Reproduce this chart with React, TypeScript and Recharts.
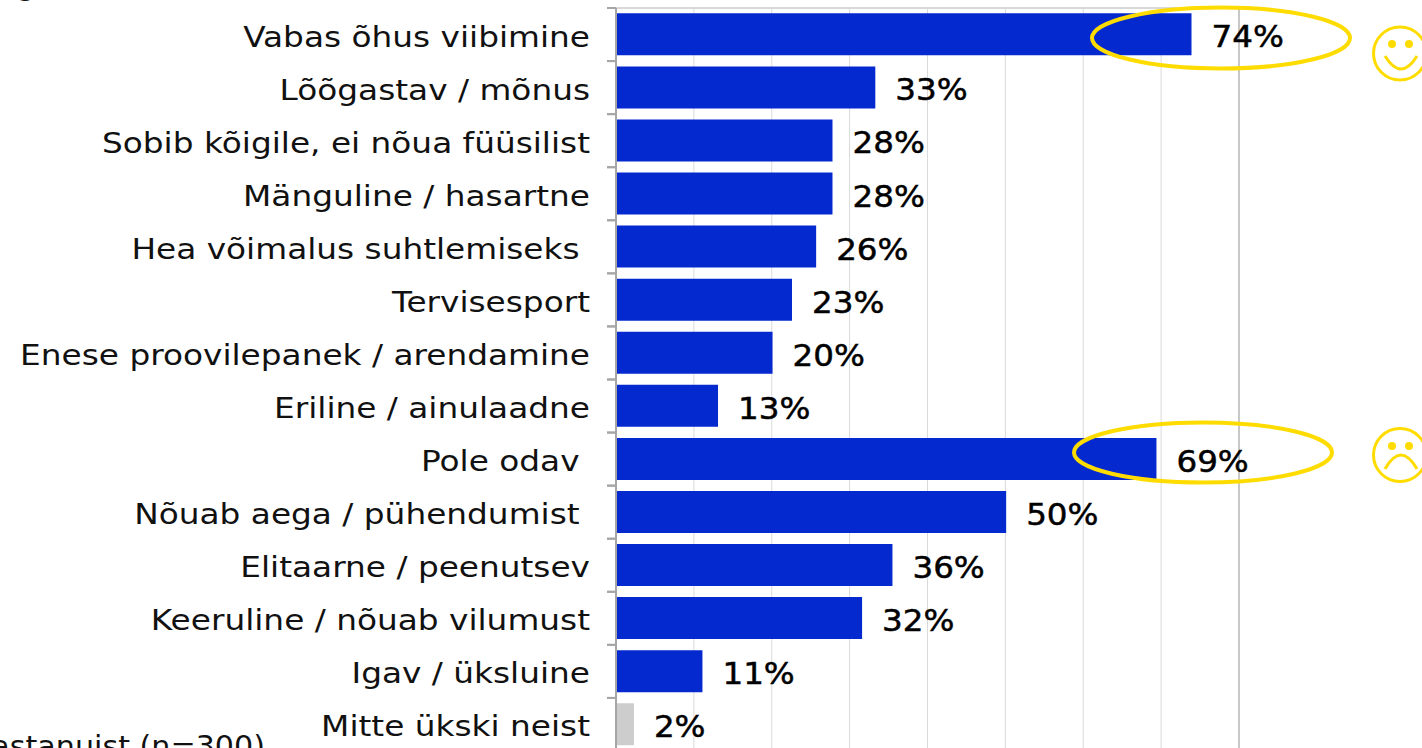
import React from "react";
import { BarChart, Bar, XAxis, YAxis, CartesianGrid, Cell, LabelList, ReferenceLine } from "recharts";

const categories = ["Vabas õhus viibimine","Lõõgastav / mõnus","Sobib kõigile, ei nõua füüsilist","Mänguline / hasartne","Hea võimalus suhtlemiseks ","Tervisesport","Enese proovilepanek / arendamine","Eriline / ainulaadne","Pole odav ","Nõuab aega / pühendumist ","Elitaarne / peenutsev","Keeruline / nõuab vilumust","Igav / üksluine","Mitte ükski neist"];
const barValues = [73.9,33.3,27.8,27.8,25.7,22.6,20.1,13.1,69.4,50.1,35.5,31.6,11.1,2.3];
const labels = ["74%","33%","28%","28%","26%","23%","20%","13%","69%","50%","36%","32%","11%","2%"];
const tickValues = [0,10,20,30,40,50,60,70,80];
const FONT = "DejaVu Sans";
const BLUE = "#0429cf";
const GREY = "#cdcdcd";
const YELLOW = "#ffdc00";

const data = categories.map((name, i) => ({ name, value: barValues[i], label: labels[i] }));
const BAND = 53.05;

const CatTick = (p: any) => (
  <g>
    <line x1={607} x2={616} y1={p.y - BAND / 2} y2={p.y - BAND / 2} stroke="#a6a6a6" strokeWidth={2} />
    <line x1={607} x2={616} y1={p.y + BAND / 2} y2={p.y + BAND / 2} stroke="#a6a6a6" strokeWidth={2} />
    <text transform={`translate(590 ${p.y + 12}) scale(1.13 1)`} textAnchor="end" fontFamily={FONT} fontSize={29} fill="#111" style={{ whiteSpace: "pre" }}>{p.payload.value}</text>
  </g>
);

const ValueLabel = (p: any) => (
  <text transform={`translate(${p.x + p.width + 20} ${p.y + p.height / 2 + 13}) scale(1.05 1)`} fontFamily={FONT} fontSize={31} fill="#000" stroke="#000" strokeWidth={0.5}>{p.value}</text>
);

const NoTick = () => <g />;

export default function App() {
  return (
    <div style={{ position: "absolute", left: 0, top: 0, width: 1422, height: 748, overflow: "hidden", background: "#fff" }}>
      <BarChart width={1422} height={760} data={data} layout="vertical" barCategoryGap="10%" margin={{ top: 7, right: 183, bottom: 9, left: 615 }}>
        <CartesianGrid horizontal={false} stroke="#dadada" strokeWidth={1} />
        <XAxis type="number" orientation="top" height={1} domain={[0, 80]} ticks={tickValues} tick={<NoTick />} tickLine={false} axisLine={{ stroke: "#d8d8d8", strokeWidth: 2 }} />
        <YAxis type="category" dataKey="name" width={1} interval={0} axisLine={{ stroke: "#a6a6a6", strokeWidth: 2 }} tickLine={false} tick={<CatTick />} />
        <ReferenceLine x={80} stroke="#c8c8c8" strokeWidth={2} />
        <Bar dataKey="value" isAnimationActive={false}>
          {data.map((d, i) => <Cell key={d.name} fill={i === 13 ? GREY : BLUE} />)}
          <LabelList dataKey="label" content={<ValueLabel />} />
        </Bar>
      </BarChart>
      <svg width={1422} height={748} style={{ position: "absolute", left: 0, top: 0, pointerEvents: "none" }}>
        <ellipse cx={1221} cy={38} rx={129} ry={30.5} fill="none" stroke={YELLOW} strokeWidth={4} />
        <ellipse cx={1203} cy={452.5} rx={129} ry={30} fill="none" stroke={YELLOW} strokeWidth={4} />
        <g fill="none" stroke={YELLOW} strokeWidth={3}>
          <circle cx={1400} cy={53.5} r={26.5} />
          <path d="M1385 56 Q1401 82 1417 56" />
          <circle cx={1400} cy={455} r={26.5} />
          <path d="M1385 469 Q1401 441 1417 469" />
        </g>
        <g fill={YELLOW}>
          <circle cx={1392} cy={44} r={4} /><circle cx={1409} cy={44} r={4} />
          <circle cx={1392} cy={446} r={4} /><circle cx={1409} cy={446} r={4} />
        </g>
        <text transform="translate(265 756) scale(1.04 1)" textAnchor="end" fontFamily={FONT} fontSize={29} fill="#111">Kõik vastanuist (n=300)</text>
        <text x={17} y={-5} fontFamily={FONT} fontSize={29} fill="#111">g</text>
      </svg>
    </div>
  );
}
